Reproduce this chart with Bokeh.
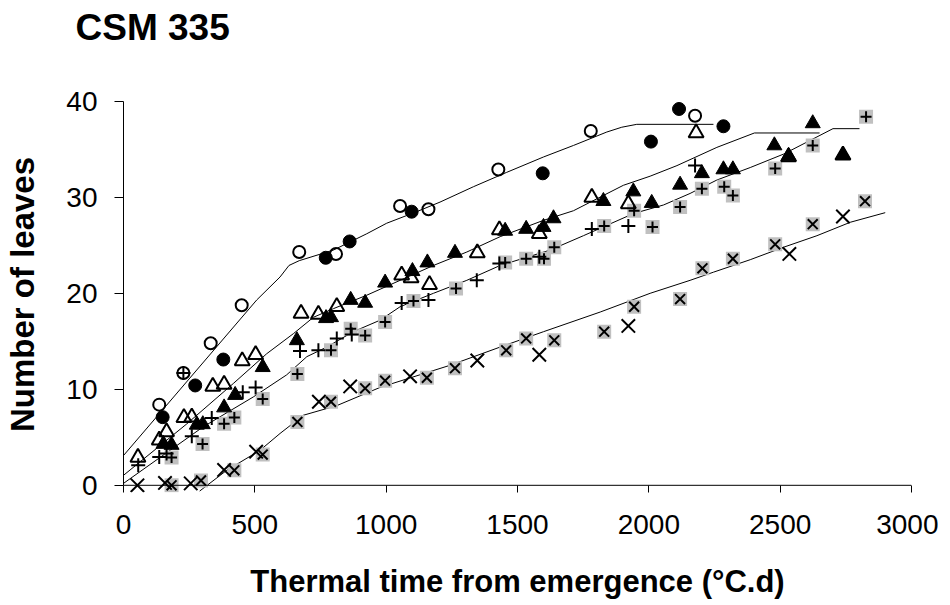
from bokeh.plotting import figure
from bokeh.models import Range1d, FixedTicker, Span, Title
from bokeh.embed import file_html
from bokeh.resources import INLINE

# ---- data ----
title_text = "CSM 335"
x_label = "Thermal time from emergence (°C.d)"
y_label = "Number of leaves"
x_ticks = [0, 500, 1000, 1500, 2000, 2500, 3000]
y_ticks = [0, 10, 20, 30, 40]

# open circles
oc_x = [136, 228, 332, 450, 669, 809, 1053, 1161, 1427, 1779, 2176]
oc_y = [8.4, 11.7, 14.8, 18.75, 24.3, 24.1, 29.1, 28.75, 32.9, 36.9, 38.5]
# filled circles
fc_x = [149, 273, 380, 770, 861, 1097, 1596, 2008, 2115, 2284]
fc_y = [7.1, 10.4, 13.1, 23.7, 25.4, 28.5, 32.5, 35.8, 39.2, 37.4]
# open triangles
ot_x = [55, 136, 164, 230, 260, 340, 383, 452, 503, 676, 742, 812, 1059, 1095,
        1165, 1347, 1431, 1583, 1783, 1922, 2180, 2532, 2739]
ot_y = [2.9, 4.7, 5.55, 7.05, 7.1, 10.3, 10.5, 12.95, 13.6, 17.9, 17.8, 18.6,
        21.9, 21.6, 20.9, 24.2, 26.6, 26.2, 30.0, 29.3, 36.7, 34.2, 34.4]
# filled triangles
ft_x = [152, 183, 279, 302, 383, 425, 530, 660, 771, 790, 865, 920, 996, 1100,
        1157, 1262, 1453, 1533, 1599, 1637, 1827, 1941, 2011, 2119, 2202, 2284,
        2320, 2478, 2532, 2624, 2739]
ft_y = [4.3, 4.2, 6.3, 6.35, 8.1, 9.4, 12.3, 15.1, 17.4, 17.5, 19.3, 19.0, 21.1,
        22.3, 23.2, 24.2, 26.5, 26.7, 26.9, 27.8, 29.6, 30.6, 29.4, 31.3, 32.5,
        32.9, 32.9, 35.4, 34.3, 37.7, 34.4]
# plus (plain)
pl_x = [56, 136, 164, 228, 260, 336, 454, 503, 672, 742, 812, 869, 1059, 1161,
        1345, 1431, 1583, 1783, 1922, 2176]
pl_y = [2.1, 2.95, 3.3, 11.7, 5.1, 7.0, 9.7, 10.2, 14.0, 14.06, 15.3, 15.7, 19.0,
        19.3, 21.35, 23.1, 23.8, 26.7, 27.0, 33.3]
# plus on grey square
ps_x = [183, 301, 383, 422, 530, 662, 790, 865, 920, 996, 1104, 1266, 1453, 1533,
        1601, 1640, 1830, 1944, 2014, 2119, 2202, 2287, 2320, 2481, 2624, 2827]
ps_y = [2.9, 4.3, 6.4, 7.05, 9.0, 11.6, 14.06, 16.3, 15.6, 17.0, 19.2, 20.5, 23.2,
        23.6, 23.6, 24.8, 27.0, 28.6, 26.9, 29.0, 30.9, 31.1, 30.2, 33.0, 35.4, 38.4]
# x (plain)
xp_x = [53, 158, 256, 383, 505, 744, 863, 1091, 1347, 1583, 1922, 2535, 2739]
xp_y = [0.0, 0.25, 0.2, 1.6, 3.5, 8.7, 10.3, 11.35, 13.0, 13.6, 16.6, 24.1, 28.0]
# x on grey square
xs_x = [183, 295, 422, 530, 662, 790, 920, 996, 1155, 1262, 1457, 1533, 1640, 1830,
        1944, 2119, 2204, 2320, 2481, 2624, 2823]
xs_y = [0.0, 0.5, 1.56, 3.2, 6.6, 8.7, 10.1, 10.9, 11.2, 12.2, 14.06, 15.3, 15.1,
        16.0, 18.6, 19.4, 22.6, 23.6, 25.1, 27.2, 29.6]

# simulated lines
l1_x = [0, 507, 596, 630, 669, 799, 926, 1002, 1116, 1205, 1332, 1459, 1599, 1713,
        1840, 1897, 1954, 2246]
l1_y = [3.1, 19.3, 21.7, 22.9, 23.4, 24.5, 26.2, 27.3, 28.5, 29.5, 31.1, 32.6, 34.2,
        35.4, 36.8, 37.3, 37.6, 37.6]
l2_x = [0, 241, 418, 545, 647, 723, 799, 926, 1053, 1180, 1307, 1434, 1599, 1713,
        1903, 2005, 2107, 2259, 2402, 2650]
l2_y = [1.04, 6.4, 10.6, 13.7, 15.8, 17.5, 18.4, 19.8, 21.35, 22.9, 24.3, 25.9, 27.6,
        28.6, 31.25, 32.2, 33.3, 35.2, 36.7, 36.7]
l3_x = [0, 139, 304, 494, 621, 698, 774, 875, 977, 1053, 1180, 1307, 1434, 1624,
        1751, 1941, 2056, 2157, 2259, 2386, 2513, 2701, 2802]
l3_y = [0.2, 2.9, 6.1, 9.2, 11.5, 13.4, 14.4, 16.0, 17.2, 18.6, 20.0, 21.35, 22.9,
        24.5, 26.0, 28.3, 29.2, 30.4, 31.8, 33.1, 34.5, 37.15, 37.15]
l4_x = [290, 393, 520, 596, 685, 812, 977, 1243, 1434, 1599, 1815, 2005, 2157, 2246,
        2386, 2513, 2640, 2767, 2900]
l4_y = [-0.6, 1.56, 3.65, 5.4, 7.3, 8.3, 10.2, 12.5, 14.4, 16.0, 18.05, 20.0, 21.35,
        22.2, 23.5, 24.8, 26.0, 27.4, 28.4]

FONT = "Liberation Sans"
GREY = "#c0c0c0"

p = figure(frame_width=788, frame_height=396, output_backend="svg",
           toolbar_location=None, x_range=Range1d(0, 3000),
           y_range=Range1d(-0.75, 40.5), title=None,
           min_border_left=123, min_border_right=27, min_border_top=96,
           min_border_bottom=100)
p.outline_line_color = None
p.xgrid.visible = False
p.ygrid.visible = False
p.background_fill_color = "white"

# spacer between frame and title, then the title itself (further out)
p.add_layout(Title(text=" ", text_font=FONT, text_font_size="37px", standoff=6), "above")
p.add_layout(Title(text=title_text, text_font=FONT, text_font_size="37px",
                   text_font_style="bold", text_color="black", align="left",
                   offset=-48, standoff=0), "above")

xa = p.xaxis[0]
xa.ticker = FixedTicker(ticks=x_ticks)
xa.axis_line_color = None
xa.major_tick_in = 7
xa.major_tick_out = 0
xa.minor_tick_line_color = None
xa.major_tick_line_color = "black"
xa.major_label_text_font = FONT
xa.major_label_text_font_size = "28px"
xa.major_label_text_color = "black"
xa.major_label_standoff = 22
xa.axis_label = x_label
xa.axis_label_text_font = FONT
xa.axis_label_text_font_size = "31px"
xa.axis_label_text_font_style = "bold"
xa.axis_label_text_color = "black"
xa.axis_label_standoff = 27

ya = p.yaxis[0]
ya.ticker = FixedTicker(ticks=y_ticks)
ya.bounds = (0, 40)
ya.axis_line_color = "black"
ya.major_tick_in = 0
ya.major_tick_out = 9
ya.minor_tick_line_color = None
ya.major_tick_line_color = "black"
ya.major_label_text_font = FONT
ya.major_label_text_font_size = "28px"
ya.major_label_text_color = "black"
ya.major_label_standoff = 17
ya.axis_label = y_label
ya.axis_label_text_font = FONT
ya.axis_label_text_font_size = "33px"
ya.axis_label_text_font_style = "bold"
ya.axis_label_text_color = "black"
ya.axis_label_standoff = 22

p.add_layout(Span(location=0, dimension="width", line_color="black", line_width=1))

for lx, ly in [(l1_x, l1_y), (l2_x, l2_y), (l3_x, l3_y), (l4_x, l4_y)]:
    p.line(lx, ly, line_color="black", line_width=1)

# grey squares
p.scatter(ps_x, ps_y, marker="square", size=14, fill_color=GREY, line_color=None)
p.scatter(xs_x, xs_y, marker="square", size=14, fill_color=GREY, line_color=None)
p.scatter(ps_x, ps_y, marker="cross", size=11, line_color="black", line_width=2)
p.scatter(xs_x, xs_y, marker="x", size=14, line_color="black", line_width=2)

p.scatter(oc_x, oc_y, marker="circle", size=12, fill_color=None, line_color="black", line_width=2)
p.scatter(fc_x, fc_y, marker="circle", size=13, fill_color="black", line_color="black")
p.scatter(ot_x, ot_y, marker="triangle", size=15, fill_color=None, line_color="black", line_width=2)
p.scatter(ft_x, ft_y, marker="triangle", size=15, fill_color="black", line_color="black")
p.scatter(pl_x, pl_y, marker="cross", size=14, line_color="black", line_width=2)
p.scatter(xp_x, xp_y, marker="x", size=19, line_color="black", line_width=2)

open("out.html", "w").write(file_html(p, INLINE))
